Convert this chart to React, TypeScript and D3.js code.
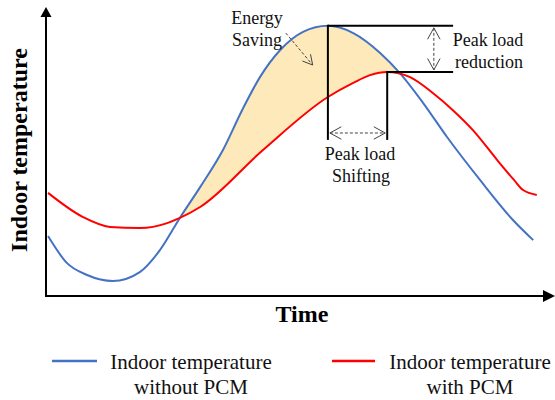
import React, { useRef, useEffect } from 'react';
import * as d3 from 'd3';

// time axis (arbitrary units, 0-100) and indoor temperature (arbitrary units, 0-100)
const blueTime = [0.4, 4.1, 8.1, 13.2, 18.5, 22.5, 26.4, 30.4, 34.9, 38.7, 42.2, 46.2, 50.7, 55.6, 60.6, 65.9, 69.8, 74.4, 79.1, 85.6, 92.1, 96.1];
const blueTemp = [20.8, 11.5, 7.3, 5.2, 8.3, 16.0, 27.1, 37.8, 50.7, 64.6, 76.0, 85.4, 91.7, 93.8, 91.3, 84.4, 77.4, 67.0, 55.2, 40.3, 26.4, 19.4];

const redTime = [0.4, 7.3, 12.6, 18.5, 23.9, 26.4, 30.4, 42.8, 55.6, 60.6, 63.9, 67.3, 71.8, 76.3, 80.2, 84.2, 89.0, 92.3, 94.1, 96.8];
const redTemp = [35.8, 27.4, 24.0, 23.6, 25.3, 27.1, 30.9, 50.7, 69.1, 74.0, 76.7, 77.8, 76.0, 70.5, 64.6, 57.6, 47.2, 40.3, 36.8, 35.1];

const seriesNames = [
  ['Indoor temperature', 'without PCM'],
  ['Indoor temperature', 'with PCM'],
];
const seriesColors = ['#4472c4', '#ff0000'];

const width = 555;
const height = 400;
const font = '"Liberation Serif", "Times New Roman", serif';

const App = () => {
  const svgRef = useRef<SVGSVGElement>(null);

  useEffect(() => {
    const svg = d3.select(svgRef.current);
    svg.selectAll('*').remove();

    const x = d3.scaleLinear().domain([0, 100]).range([46, 553]);
    const y = d3.scaleLinear().domain([0, 100]).range([296, 8]);

    const blue = blueTime.map((t, i) => [t, blueTemp[i]] as [number, number]);
    const red = redTime.map((t, i) => [t, redTemp[i]] as [number, number]);

    // energy saving area: under the blue curve, clipped to above the red curve
    const aboveRed = d3.area<[number, number]>()
      .x(d => x(d[0]))
      .y0(0)
      .y1(d => y(d[1]))
      .curve(d3.curveMonotoneX);
    svg.append('clipPath')
      .attr('id', 'above-red')
      .append('path')
      .attr('d', aboveRed(red));

    const underBlue = d3.area<[number, number]>()
      .x(d => x(d[0]))
      .y0(y(0))
      .y1(d => y(d[1]))
      .curve(d3.curveMonotoneX);
    svg.append('path')
      .attr('d', underBlue(blue))
      .attr('clip-path', 'url(#above-red)')
      .attr('fill', '#fde9b9');

    const line = d3.line<[number, number]>()
      .x(d => x(d[0]))
      .y(d => y(d[1]))
      .curve(d3.curveMonotoneX);

    [blue, red].forEach((s, i) => {
      svg.append('path')
        .datum(s)
        .attr('fill', 'none')
        .attr('stroke', seriesColors[i])
        .attr('stroke-width', 2)
        .attr('d', line);
    });

    // axes with arrow heads
    svg.append('line')
      .attr('x1', x(0)).attr('y1', y(0))
      .attr('x2', x(0)).attr('y2', 16)
      .attr('stroke', '#000').attr('stroke-width', 2);
    svg.append('path')
      .attr('d', `M${x(0)},7 L${x(0) - 5.5},17 L${x(0) + 5.5},17 Z`)
      .attr('fill', '#000');
    svg.append('line')
      .attr('x1', x(0) - 1).attr('y1', y(0))
      .attr('x2', 545).attr('y2', y(0))
      .attr('stroke', '#000').attr('stroke-width', 2);
    svg.append('path')
      .attr('d', `M555,${y(0)} L543,${y(0) - 6} L543,${y(0) + 6} Z`)
      .attr('fill', '#000');

    // peak guides
    const bi = d3.maxIndex(blueTemp);
    const ri = d3.maxIndex(redTemp);
    const bx = x(blueTime[bi]), by = y(blueTemp[bi]);
    const rx = x(redTime[ri]), ry = y(redTemp[ri]);
    const guideRight = x(80.3);
    const guideBottom = y(54.2);
    const guide = (x1: number, y1: number, x2: number, y2: number) =>
      svg.append('line')
        .attr('x1', x1).attr('y1', y1).attr('x2', x2).attr('y2', y2)
        .attr('stroke', '#000').attr('stroke-width', 2);
    guide(bx, by, guideRight, by);
    guide(rx, ry, guideRight, ry);
    guide(bx, by - 1, bx, guideBottom);
    guide(rx, ry - 1, rx, guideBottom);

    // dashed arrows with open heads
    const arrowHead = (tx: number, ty: number, ang: number, len: number) => {
      const a1 = ang + Math.PI - 0.5;
      const a2 = ang + Math.PI + 0.5;
      svg.append('path')
        .attr('d', `M${tx + len * Math.cos(a1)},${ty + len * Math.sin(a1)} L${tx},${ty} L${tx + len * Math.cos(a2)},${ty + len * Math.sin(a2)}`)
        .attr('fill', 'none')
        .attr('stroke', '#444')
        .attr('stroke-width', 1);
    };
    const dashed = (x1: number, y1: number, x2: number, y2: number, both: boolean, len: number) => {
      svg.append('line')
        .attr('x1', x1).attr('y1', y1).attr('x2', x2).attr('y2', y2)
        .attr('stroke', '#444')
        .attr('stroke-width', 1)
        .attr('stroke-dasharray', '3,2');
      const ang = Math.atan2(y2 - y1, x2 - x1);
      arrowHead(x2, y2, ang, len);
      if (both) arrowHead(x1, y1, ang + Math.PI, len);
    };
    const vx = x(76.5);
    dashed(vx, by + 2, vx, ry - 2, true, 13);
    const hy = y(56.6);
    dashed(bx + 2, hy, rx - 2, hy, true, 13);
    dashed(x(47.3), y(91.3), x(52.6), y(80.2), false, 11);

    // annotation text
    const label = (tx: number, ty: number, txt: string, size: number, weight = 'normal') =>
      svg.append('text')
        .attr('x', tx).attr('y', ty)
        .attr('text-anchor', 'middle')
        .style('font-family', font)
        .style('font-size', `${size}px`)
        .style('font-weight', weight)
        .attr('fill', '#111')
        .text(txt);
    label(257, 24, 'Energy', 18);
    label(257, 46, 'Saving', 18);
    label(488, 46, 'Peak load', 18);
    label(489, 68, 'reduction', 18);
    label(360, 160, 'Peak load', 18);
    label(361, 182, 'Shifting', 18);

    // axis titles
    label(302, 322, 'Time', 24, 'bold').attr('fill', '#000');
    svg.append('text')
      .attr('transform', 'translate(27,150) rotate(-90)')
      .attr('text-anchor', 'middle')
      .style('font-family', font)
      .style('font-size', '24px')
      .style('font-weight', 'bold')
      .text('Indoor temperature');

    // legend
    const legendLine = [[52, 97], [332, 375]];
    const legendText = [191, 470];
    seriesNames.forEach((names, i) => {
      svg.append('line')
        .attr('x1', legendLine[i][0]).attr('x2', legendLine[i][1])
        .attr('y1', 361).attr('y2', 361)
        .attr('stroke', seriesColors[i])
        .attr('stroke-width', 2.5);
      label(legendText[i], 369, names[0], 21);
      label(legendText[i], 394, names[1], 21);
    });
  }, []);

  return (
    <svg
      ref={svgRef}
      width={width}
      height={height}
      style={{ position: 'absolute', left: 0, top: 0, background: '#fff' }}
    />
  );
};

export default App;
